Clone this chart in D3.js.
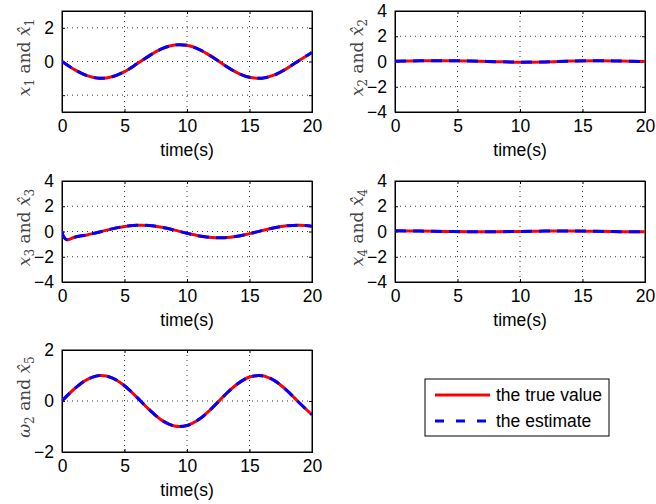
<!DOCTYPE html>
<html>
<head>
<meta charset="utf-8">
<script src="https://cdn.jsdelivr.net/npm/d3@7"></script>
<style>
  body { margin: 0; background: #fff; }
  svg { display: block; }
  .tick text { font-family: "Liberation Sans", Arial, sans-serif; font-size: 17.5px; fill: #000; }
  .xlabel { font-family: "Liberation Sans", Arial, sans-serif; font-size: 17.5px; fill: #000; }
  .ylabel { font-family: "DejaVu Serif", "Liberation Serif", serif; font-size: 17px; fill: #444; }
  .legend text { font-family: "Liberation Sans", Arial, sans-serif; font-size: 17.5px; fill: #000; }
</style>
</head>
<body>
<svg id="chart"></svg>
<script>
// data
const timeSec = [0, 1, 2, 3, 4, 5, 6, 7, 8, 9, 10, 11, 12, 13, 14, 15, 16, 17, 18, 19, 20];
const x1True = [0, -0.48, -0.84, -1.0, -0.91, -0.6, -0.14, 0.35, 0.76, 0.98, 0.96, 0.71, 0.28, -0.22, -0.66, -0.94, -0.99, -0.8, -0.41, 0.08, 0.54];
const x1Est = [0, -0.48, -0.84, -1.0, -0.91, -0.6, -0.14, 0.35, 0.76, 0.98, 0.96, 0.71, 0.28, -0.22, -0.66, -0.94, -0.99, -0.8, -0.41, 0.08, 0.54];

const timeSlow = [0, 2, 4, 6, 8, 10, 12, 14, 16, 18, 20];
const x2True = [0.02, 0.05, 0.06, 0.04, -0.01, -0.05, -0.03, 0.03, 0.06, 0.04, 0.0];
const x2Est = [0.02, 0.05, 0.06, 0.04, -0.01, -0.05, -0.03, 0.03, 0.06, 0.04, 0.0];
const x4True = [0.05, 0.03, 0.0, -0.02, -0.02, 0.0, 0.03, 0.04, 0.02, -0.01, -0.02];
const x4Est = [0.05, 0.03, 0.0, -0.02, -0.02, 0.0, 0.03, 0.04, 0.02, -0.01, -0.02];

const timeX3 = [0, 0.15, 0.4, 1, 2, 3, 4, 5, 6, 7, 8, 9, 10, 11, 12, 13, 14, 15, 16, 17, 18, 19, 20];
const x3True = [0, -0.45, -0.66, -0.45, -0.27, -0.04, 0.21, 0.4, 0.49, 0.47, 0.33, 0.11, -0.14, -0.35, -0.48, -0.49, -0.38, -0.17, 0.07, 0.3, 0.45, 0.5, 0.42];
const x3Est = [0, -0.45, -0.66, -0.45, -0.27, -0.04, 0.21, 0.4, 0.49, 0.47, 0.33, 0.11, -0.14, -0.35, -0.48, -0.49, -0.38, -0.17, 0.07, 0.3, 0.45, 0.5, 0.42];

const w2True = [0, 0.48, 0.84, 1.0, 0.91, 0.6, 0.14, -0.35, -0.76, -0.98, -0.96, -0.71, -0.28, 0.22, 0.66, 0.94, 0.99, 0.8, 0.41, -0.08, -0.54];
const w2Est = [0, 0.48, 0.84, 1.0, 0.91, 0.6, 0.14, -0.35, -0.76, -0.98, -0.96, -0.71, -0.28, 0.22, 0.66, 0.94, 0.99, 0.8, 0.41, -0.08, -0.54];

const xTicks = [0, 5, 10, 15, 20];
const legendLabels = ["the true value", "the estimate"];

const width = 656, height = 504;
const svg = d3.select("#chart").attr("width", width).attr("height", height);

const panels = [
  { left: 62, top: 11, h: 101, t: timeSec, tru: x1True, est: x1Est, yDomain: [-3, 3], yTicks: [-2, 0, 2], hideLabel: [-2], sym: "x", sub: "1", hatSub: "1" },
  { left: 395, top: 11, h: 101, t: timeSlow, tru: x2True, est: x2Est, yDomain: [-4, 4], yTicks: [-4, -2, 0, 2, 4], hideLabel: [], sym: "x", sub: "2", hatSub: "2" },
  { left: 62, top: 181, h: 101, t: timeX3, tru: x3True, est: x3Est, yDomain: [-4, 4], yTicks: [-4, -2, 0, 2, 4], hideLabel: [], sym: "x", sub: "3", hatSub: "3" },
  { left: 395, top: 181, h: 101, t: timeSlow, tru: x4True, est: x4Est, yDomain: [-4, 4], yTicks: [-4, -2, 0, 2, 4], hideLabel: [], sym: "x", sub: "4", hatSub: "4" },
  { left: 62, top: 350, h: 102, t: timeSec, tru: w2True, est: w2Est, yDomain: [-2, 2], yTicks: [-2, 0, 2], hideLabel: [], sym: "ω", sub: "2", hatSub: "5" }
];
const plotW = 250;

panels.forEach((p, i) => {
  const g = svg.append("g").attr("transform", `translate(${p.left},${p.top})`);
  const x = d3.scaleLinear().domain([0, 20]).range([0, plotW]);
  const y = d3.scaleLinear().domain(p.yDomain).range([p.h, 0]);

  // dotted grid
  g.append("g").selectAll("line")
    .data(xTicks.filter(d => d > 0 && d < 20))
    .join("line")
    .attr("x1", d => x(d)).attr("x2", d => x(d))
    .attr("y1", 0).attr("y2", p.h)
    .attr("stroke", "#333").attr("stroke-width", 1).attr("stroke-dasharray", "1,4");
  g.append("g").selectAll("line")
    .data(p.yTicks.filter(d => d > p.yDomain[0] && d < p.yDomain[1]))
    .join("line")
    .attr("x1", 0).attr("x2", plotW)
    .attr("y1", d => y(d)).attr("y2", d => y(d))
    .attr("stroke", "#333").attr("stroke-width", 1).attr("stroke-dasharray", "1,4");

  // axes with inward ticks
  g.append("g").attr("transform", `translate(0,${p.h})`)
    .call(d3.axisBottom(x).tickValues(xTicks).tickSize(-3).tickPadding(8));
  g.append("g").call(d3.axisTop(x).tickValues(xTicks).tickSize(-3).tickFormat(""));
  g.append("g")
    .call(d3.axisLeft(y).tickValues(p.yTicks).tickSize(-3).tickPadding(8)
      .tickFormat(d => p.hideLabel.includes(d) ? "" : (d < 0 ? "\u2212" + Math.abs(d) : d)));
  g.append("g").attr("transform", `translate(${plotW},0)`)
    .call(d3.axisRight(y).tickValues(p.yTicks).tickSize(-3).tickFormat(""));
  g.selectAll(".domain").attr("stroke", "#000");
  g.selectAll(".tick line").attr("stroke", "#000");

  g.append("rect").attr("width", plotW).attr("height", p.h)
    .attr("fill", "none").attr("stroke", "#000").attr("stroke-width", 1);

  // curves
  const clipId = "clip" + i;
  g.append("clipPath").attr("id", clipId).append("rect").attr("width", plotW).attr("height", p.h);
  const line = d3.line()
    .x(d => x(d[0]))
    .y(d => y(d[1]))
    .curve(d3.curveCatmullRom);
  const lines = g.append("g").attr("clip-path", `url(#${clipId})`);
  lines.append("path")
    .datum(p.t.map((t, k) => [t, p.tru[k]]))
    .attr("d", line)
    .attr("fill", "none").attr("stroke", "#ff0000").attr("stroke-width", 3);
  lines.append("path")
    .datum(p.t.map((t, k) => [t, p.est[k]]))
    .attr("d", line)
    .attr("fill", "none").attr("stroke", "#0000ff").attr("stroke-width", 3)
    .attr("stroke-dasharray", "11,7");

  // labels
  g.append("text").attr("class", "xlabel")
    .attr("x", plotW / 2).attr("y", p.h + 44)
    .attr("text-anchor", "middle")
    .text("time(s)");

  const yl = g.append("text").attr("class", "ylabel")
    .attr("transform", `translate(${-32},${p.h / 2 - 4}) rotate(-90)`)
    .attr("text-anchor", "middle");
  yl.append("tspan").attr("font-style", "italic").text(p.sym);
  yl.append("tspan").attr("font-size", "12px").attr("dy", 4).text(p.sub);
  yl.append("tspan").attr("dy", -4).text(" and ");
  yl.append("tspan").attr("font-style", "italic").text("x\u0302");
  yl.append("tspan").attr("font-size", "12px").attr("dy", 4).text(p.hatSub);
});

// legend
const legend = svg.append("g").attr("class", "legend").attr("transform", "translate(425,379)");
legend.append("rect").attr("width", 184).attr("height", 57)
  .attr("fill", "#fff").attr("stroke", "#000").attr("stroke-width", 1);
const legendStyle = [
  { color: "#ff0000", dash: null },
  { color: "#0000ff", dash: "9,12" }
];
legendLabels.forEach((lab, i) => {
  const yy = 16 + i * 26;
  legend.append("line")
    .attr("x1", 10).attr("x2", 65).attr("y1", yy).attr("y2", yy)
    .attr("stroke", legendStyle[i].color).attr("stroke-width", 3)
    .attr("stroke-dasharray", legendStyle[i].dash);
  legend.append("text").attr("x", 71).attr("y", yy + 6).text(lab);
});
</script>
</body>
</html>
